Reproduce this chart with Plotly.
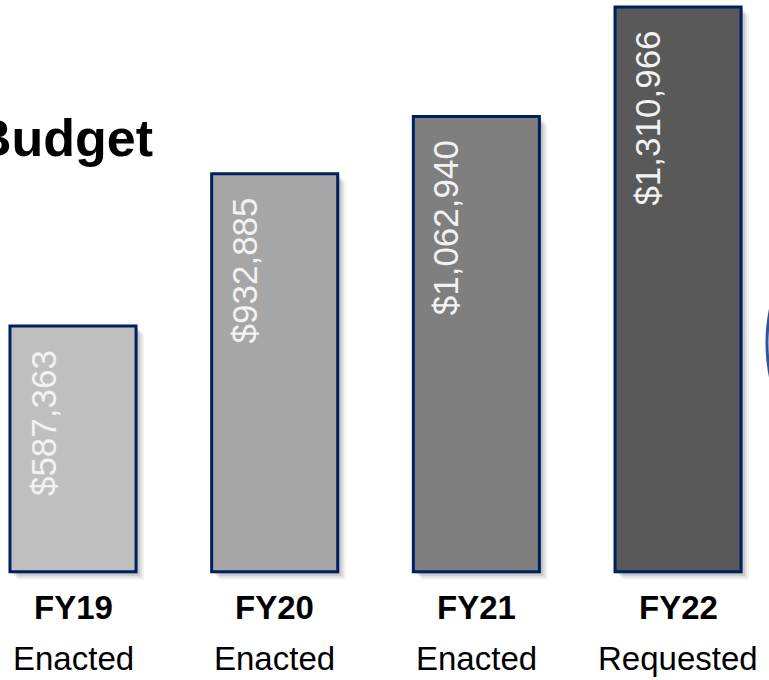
import plotly.graph_objects as go

# ---- data ----
categories = ["FY19", "FY20", "FY21", "FY22"]
statuses = ["Enacted", "Enacted", "Enacted", "Requested"]
budget = [587363, 932885, 1062940, 1310966]
value_labels = ["$587,363", "$932,885", "$1,062,940", "$1,310,966"]
bar_colors = ["#BFBFBF", "#A6A6A6", "#7F7F7F", "#595959"]
title_text = "Budget"

# ---- geometry / style ----
W, H = 769, 680
MB = 95
PLOT_H = H - MB
BASE = 30000
Y_MAX = 1327000
X_RANGE = [-0.362, 3.451]
BAR_W = 0.625
unit_per_px = Y_MAX / PLOT_H
x_unit_per_px = (X_RANGE[1] - X_RANGE[0]) / W

SANS = "Liberation Sans, Arial, sans-serif"

lengths = [v - BASE for v in budget]

fig = go.Figure()

# soft drop shadow
for dpx, alpha in [(8, 0.05), (6, 0.07), (4, 0.10), (2, 0.10)]:
    fig.add_bar(
        x=categories, y=lengths, base=BASE - dpx * unit_per_px,
        width=BAR_W, offset=-BAR_W / 2 + dpx * x_unit_per_px,
        marker=dict(color=f"rgba(0,0,0,{alpha})", line=dict(width=0)),
        hoverinfo="skip", showlegend=False,
    )

# main bars
fig.add_bar(
    x=categories, y=lengths, base=BASE, width=BAR_W,
    marker=dict(color=bar_colors, line=dict(color="#002060", width=3)),
    showlegend=False, hoverinfo="skip",
)

annotations = []
for c, v, lab in zip(categories, budget, value_labels):
    annotations.append(dict(
        x=c, y=v, xref="x", yref="y", text=lab, showarrow=False,
        textangle=-90, xanchor="center", yanchor="top",
        xshift=-30, yshift=-22,
        font=dict(family=SANS, size=35, color="#F2F2F2"),
    ))
for c, s in zip(categories, statuses):
    annotations.append(dict(
        x=c, y=(PLOT_H - 607) / PLOT_H, xref="x", yref="paper",
        text=f"<b>{c}</b>", showarrow=False, xanchor="center", yanchor="middle",
        font=dict(family=SANS, size=33, color="#000000"),
    ))
    annotations.append(dict(
        x=c, y=(PLOT_H - 658) / PLOT_H, xref="x", yref="paper",
        text=s, showarrow=False, xanchor="center", yanchor="middle",
        font=dict(family=SANS, size=33, color="#000000"),
    ))
annotations.append(dict(
    x=155 / W, y=(PLOT_H - 138) / PLOT_H, xref="paper", yref="paper",
    text=f"<b>{title_text}</b>", showarrow=False, xanchor="right", yanchor="middle",
    font=dict(family=SANS, size=52, color="#000000"),
))

shapes = [dict(
    type="circle", xref="paper", yref="paper",
    x0=767 / W, x1=(767 + 340) / W,
    y0=(PLOT_H - (343 + 170)) / PLOT_H, y1=(PLOT_H - (343 - 170)) / PLOT_H,
    line=dict(color="#2F5597", width=3),
)]

fig.update_layout(
    width=W, height=H,
    margin=dict(l=0, r=0, t=0, b=MB, pad=0),
    paper_bgcolor="white", plot_bgcolor="white",
    barmode="overlay",
    xaxis=dict(type="category", range=X_RANGE, showticklabels=False,
               showgrid=False, zeroline=False, showline=False, ticks=""),
    yaxis=dict(range=[0, Y_MAX], visible=False, showgrid=False, zeroline=False),
    annotations=annotations,
    shapes=shapes,
)

fig.write_html(
    "out.html",
    config={"displayModeBar": False},
    post_script="document.body.style.margin='0px';document.body.style.padding='0px';"
                "document.documentElement.style.overflow='hidden';",
)
